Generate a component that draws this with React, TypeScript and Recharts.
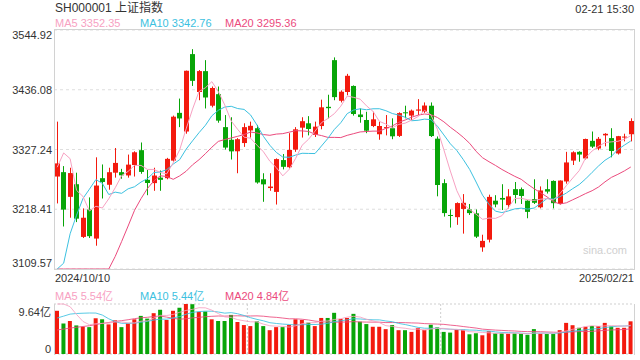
import React from "react";
import { ComposedChart, Bar, Line, XAxis, YAxis, CartesianGrid, Cell } from "recharts";

// trading days 2024/10/10 - 2025/02/21
const dates = [
  "2024/10/10", "2024/10/11", "2024/10/14", "2024/10/15", "2024/10/16", "2024/10/17", "2024/10/18",
  "2024/10/21", "2024/10/22", "2024/10/23", "2024/10/24", "2024/10/25", "2024/10/28", "2024/10/29",
  "2024/10/30", "2024/10/31", "2024/11/01", "2024/11/04", "2024/11/05", "2024/11/06", "2024/11/07",
  "2024/11/08", "2024/11/11", "2024/11/12", "2024/11/13", "2024/11/14", "2024/11/15", "2024/11/18",
  "2024/11/19", "2024/11/20", "2024/11/21", "2024/11/22", "2024/11/25", "2024/11/26", "2024/11/27",
  "2024/11/28", "2024/11/29", "2024/12/02", "2024/12/03", "2024/12/04", "2024/12/05", "2024/12/06",
  "2024/12/09", "2024/12/10", "2024/12/11", "2024/12/12", "2024/12/13", "2024/12/16", "2024/12/17",
  "2024/12/18", "2024/12/19", "2024/12/20", "2024/12/23", "2024/12/24", "2024/12/25", "2024/12/26",
  "2024/12/27", "2024/12/30", "2024/12/31", "2025/01/02", "2025/01/03", "2025/01/06", "2025/01/07",
  "2025/01/08", "2025/01/09", "2025/01/10", "2025/01/13", "2025/01/14", "2025/01/15", "2025/01/16",
  "2025/01/17", "2025/01/20", "2025/01/21", "2025/01/22", "2025/01/23", "2025/01/24", "2025/01/27",
  "2025/02/05", "2025/02/06", "2025/02/07", "2025/02/10", "2025/02/11", "2025/02/12", "2025/02/13",
  "2025/02/14", "2025/02/17", "2025/02/18", "2025/02/19", "2025/02/20", "2025/02/21",
];

const opens = [
  3278, 3286, 3241, 3264, 3168, 3218, 3165, 3275, 3263, 3285, 3286, 3280, 3299, 3326, 3272, 3266,
  3276, 3275, 3307, 3394, 3360, 3501, 3432, 3470, 3407, 3428, 3368, 3345, 3324, 3339, 3362, 3366,
  3273, 3257, 3250, 3308, 3295, 3327, 3367, 3375, 3354, 3370, 3405, 3490, 3416, 3432, 3443, 3391,
  3381, 3370, 3355, 3366, 3366, 3352, 3395, 3389, 3398, 3396, 3407, 3347, 3266, 3208, 3204, 3219,
  3218, 3211, 3149, 3163, 3234, 3239, 3226, 3255, 3255, 3234, 3237, 3222, 3255, 3270, 3228, 3269,
  3307, 3323, 3311, 3343, 3329, 3353, 3348, 3320, 3349, 3355,
];

const highs = [
  3378, 3297, 3294, 3285, 3220, 3240, 3313, 3300, 3294, 3330, 3292, 3318, 3324, 3340, 3290, 3294,
  3289, 3312, 3389, 3420, 3471, 3510, 3472, 3490, 3442, 3442, 3390, 3386, 3348, 3375, 3378, 3372,
  3284, 3284, 3311, 3319, 3357, 3368, 3386, 3388, 3378, 3418, 3427, 3495, 3435, 3465, 3444, 3402,
  3396, 3396, 3378, 3390, 3384, 3395, 3407, 3400, 3419, 3413, 3413, 3351, 3273, 3218, 3231, 3246,
  3228, 3218, 3172, 3245, 3244, 3264, 3255, 3268, 3258, 3235, 3273, 3260, 3273, 3271, 3271, 3323,
  3324, 3324, 3347, 3360, 3350, 3357, 3366, 3352, 3356, 3384,
];

const lows = [
  3229, 3187, 3203, 3195, 3166, 3166, 3152, 3238, 3254, 3276, 3274, 3276, 3278, 3283, 3244, 3252,
  3252, 3273, 3305, 3368, 3356, 3443, 3417, 3402, 3404, 3376, 3327, 3309, 3284, 3332, 3349, 3265,
  3232, 3252, 3227, 3291, 3293, 3323, 3349, 3353, 3350, 3364, 3384, 3417, 3413, 3426, 3389, 3376,
  3357, 3368, 3345, 3353, 3346, 3350, 3384, 3381, 3390, 3394, 3350, 3242, 3205, 3185, 3190, 3174,
  3208, 3166, 3141, 3158, 3222, 3217, 3220, 3229, 3228, 3202, 3228, 3220, 3247, 3220, 3227, 3265,
  3299, 3305, 3309, 3330, 3326, 3333, 3313, 3318, 3342, 3342,
];

const closes = [
  3301.93, 3217.74, 3284.32, 3201.29, 3202.95, 3169.38, 3261.56, 3268.11, 3285.87, 3302.8,
  3280.26, 3299.7, 3322.2, 3286.41, 3266.24, 3279.82, 3272.01, 3310.21, 3386.99, 3383.81,
  3470.66, 3452.3, 3470.07, 3421.97, 3439.28, 3379.84, 3330.73, 3323.85, 3346.01, 3367.99,
  3370.4, 3267.19, 3263.76, 3259.76, 3309.78, 3295.7, 3326.46, 3363.98, 3378.81, 3364.65,
  3368.86, 3404.08, 3402.53, 3422.66, 3432.49, 3461.5, 3391.88, 3386.33, 3361.49, 3382.21,
  3370.03, 3368.07, 3351.26, 3393.53, 3393.35, 3398.08, 3400.14, 3407.33, 3351.76, 3262.56,
  3211.43, 3206.92, 3229.64, 3230.17, 3211.39, 3168.52, 3160.76, 3240.94, 3227.12, 3236.03,
  3241.82, 3244.38, 3242.62, 3213.62, 3230.16, 3252.63, 3250.6, 3229.49, 3270.66, 3303.67,
  3322.17, 3318.06, 3346.39, 3332.48, 3346.72, 3355.83, 3324.49, 3351.54, 3350.78, 3379.11,
];

// volume, 亿
const volumes = [
  8.33, 5.9, 6.36, 5.51, 5.25, 5.18, 6.89, 6.69, 5.71, 6.49, 5.18, 5.9, 6.69, 7.35, 6.82, 7.87,
  8.53, 6.56, 8.33, 8.92, 9.64, 9.6, 8.13, 8.2, 6.69, 6.36, 6.36, 7.54, 6.17, 5.58, 5.38, 6.3,
  5.38, 4.59, 5.18, 5.18, 5.58, 6.69, 6.56, 6.04, 5.38, 6.95, 6.95, 7.94, 6.76, 6.95, 7.74, 6.23,
  5.77, 5.25, 5.25, 4.79, 5.58, 4.59, 4.59, 4.26, 4.99, 4.66, 5.64, 5.12, 4.26, 4.13, 4.66, 4.66,
  3.8, 4.0, 3.61, 4.4, 4.0, 4.0, 3.9, 3.95, 3.9, 3.7, 4.8, 3.9, 3.85, 3.85, 4.6, 6.0,
  5.55, 5.05, 5.25, 5.4, 5.4, 6.0, 5.31, 5.05, 5.05, 6.3,
];

// the 19 sessions before the first day, needed for the moving averages
const priorCloses = [
  2784.28, 2788.31, 2765.81, 2736.49, 2744.19, 2721.8, 2717.12, 2704.09, 2717.28, 2736.02,
  2736.81, 2748.92, 2863.13, 2896.31, 3000.95, 3087.53, 3336.5, 3489.78, 3258.86,
];
const priorVolumes = [
  2.4, 2.5, 2.4, 2.3, 2.2, 2.3, 2.3, 2.2, 2.3, 2.3, 2.3, 2.5, 4.3, 4.7, 4.8, 7.0, 10.5, 13.0, 12.0,
];

const priceTicks = [3109.57, 3218.41, 3327.24, 3436.08, 3544.92];
const updateTime = "02-21 15:30";

const RED = "#f31a0e";
const GREEN = "#08a508";
const C_MA5 = "#f7a1c2";
const C_MA10 = "#3cc1e0";
const C_MA20 = "#eb4a7d";
const TEXT = "#333";
const FONT = "'Liberation Sans', Arial, 'Noto Sans CJK SC', sans-serif";

const W = 640;
const AXIS_W = 54;

function movingAvg(series: number[], prior: number[], n: number) {
  const all = [...prior, ...series];
  return series.map((_, i) => {
    const end = prior.length + i + 1;
    let s = 0;
    for (let k = end - n; k < end; k++) s += all[k];
    return s / n;
  });
}

const P_MIN = priceTicks[0];
const P_MAX = priceTicks[priceTicks.length - 1];
const V_MAX = Math.max(...volumes);

const ma5 = movingAvg(closes, priorCloses, 5);
const ma10 = movingAvg(closes, priorCloses, 10);
const ma20 = movingAvg(closes, priorCloses, 20);
const vma5 = movingAvg(volumes, priorVolumes, 5);
const vma10 = movingAvg(volumes, priorVolumes, 10);
const vma20 = movingAvg(volumes, priorVolumes, 20);

const clampP = (v: number) => Math.min(P_MAX, Math.max(P_MIN, v));
const clampV = (v: number) => Math.min(V_MAX, Math.max(0, v));

const rows = dates.map((date, i) => ({
  date,
  open: opens[i],
  high: highs[i],
  low: lows[i],
  close: closes[i],
  vol: volumes[i],
  up: closes[i] >= opens[i],
  ma5: clampP(ma5[i]),
  ma10: clampP(ma10[i]),
  ma20: clampP(ma20[i]),
  vma5: clampV(vma5[i]),
  vma10: clampV(vma10[i]),
  vma20: clampV(vma20[i]),
}));

const last = rows.length - 1;

const Candle = (props: any) => {
  const { x, y, width, height, payload } = props;
  if (x == null || !payload) return null;
  const { open, close, high, low } = payload;
  const color = close >= open ? RED : GREEN;
  const top = Math.min(y, y + height);
  const bottom = Math.max(y, y + height);
  const k = (bottom - top) / (high - low || 1);
  const py = (v: number) => top + (high - v) * k;
  const cx = Math.floor(x + width / 2) + 0.5;
  const bTop = py(Math.max(open, close));
  const bH = Math.max(1, py(Math.min(open, close)) - bTop);
  return (
    <g>
      <line x1={cx} x2={cx} y1={top} y2={bottom} stroke={color} strokeWidth={1} />
      <rect x={cx - 2.5} y={bTop} width={5} height={bH} fill={color} />
    </g>
  );
};

const PriceTick = (p: any) => {
  const v = p.payload.value;
  const dy = v === P_MAX ? 5 : v === P_MIN ? -6 : 0;
  return (
    <text x={AXIS_W - 2} y={p.y + dy} textAnchor="end" dominantBaseline="central"
      fontSize={11} fill={TEXT} fontFamily={FONT}>
      {v.toFixed(2)}
    </text>
  );
};

const VolTick = (p: any) => {
  const v = p.payload.value;
  const dy = v === 0 ? -5 : 8;
  return (
    <text x={AXIS_W - 3} y={p.y + dy} textAnchor="end" dominantBaseline="central"
      fontSize={11} fill={TEXT} fontFamily={FONT}>
      {v === 0 ? "0" : `${v.toFixed(2)}亿`}
    </text>
  );
};

const legendRow = (top: number, items: { label: string; color: string }[]) => (
  <div style={{ position: "absolute", top, left: 0, width: W, height: 14 }}>
    {items.map((it, i) => (
      <span key={i} style={{
        position: "absolute", left: [55, 140, 225][i], top: 0, fontSize: 11,
        lineHeight: "14px", color: it.color, whiteSpace: "nowrap",
      }}>{it.label}</span>
    ))}
  </div>
);

export default function App() {
  const plotW = W - AXIS_W - 6;
  return (
    <div style={{
      position: "absolute", left: 0, top: 0, width: W, height: 360, background: "#fff",
      fontFamily: FONT, overflow: "hidden",
    }}>
      <div style={{ position: "absolute", left: 55, top: 1, fontSize: 12, lineHeight: "15px", color: TEXT }}>
        SH000001 上证指数
      </div>
      <div style={{ position: "absolute", right: 6, top: 2, fontSize: 11, lineHeight: "14px", color: TEXT }}>
        {updateTime}
      </div>
      {legendRow(16, [
        { label: `MA5 ${ma5[last].toFixed(2)}`, color: C_MA5 },
        { label: `MA10 ${ma10[last].toFixed(2)}`, color: C_MA10 },
        { label: `MA20 ${ma20[last].toFixed(2)}`, color: C_MA20 },
      ])}

      {/* price panel */}
      <div style={{ position: "absolute", left: 0, top: 0 }}>
        <ComposedChart width={W} height={270} data={rows} margin={{ top: 30, right: 6, bottom: 1, left: 0 }}>
          <CartesianGrid vertical={false} stroke="#dedede" strokeDasharray="3 3" />
          <XAxis dataKey="date" hide />
          <YAxis domain={[P_MIN, P_MAX]} ticks={priceTicks} allowDataOverflow interval={0}
            width={AXIS_W} axisLine={false} tickLine={false} tick={PriceTick} />
          <Bar dataKey={(d: any) => [d.low, d.high]} barSize={5} shape={Candle} isAnimationActive={false} />
          <Line dataKey="ma20" stroke={C_MA20} strokeWidth={1} dot={false} isAnimationActive={false} />
          <Line dataKey="ma10" stroke={C_MA10} strokeWidth={1} dot={false} isAnimationActive={false} />
          <Line dataKey="ma5" stroke={C_MA5} strokeWidth={1} dot={false} isAnimationActive={false} />
        </ComposedChart>
      </div>
      <div style={{
        position: "absolute", left: AXIS_W, top: 29, width: plotW + 1, height: 241,
        border: "1px solid #d2d2d2", boxSizing: "border-box", pointerEvents: "none",
      }} />
      <div style={{ position: "absolute", left: 583, top: 243, fontSize: 11, lineHeight: "14px", color: "#d0d0d0" }}>
        sina.com
      </div>
      <div style={{ position: "absolute", left: 55, top: 271, fontSize: 11, lineHeight: "14px", color: TEXT }}>
        {dates[0]}
      </div>
      <div style={{ position: "absolute", right: 6, top: 271, fontSize: 11, lineHeight: "14px", color: TEXT }}>
        {dates[last]}
      </div>

      {/* volume panel */}
      {legendRow(289, [
        { label: `MA5 ${vma5[last].toFixed(2)}亿`, color: C_MA5 },
        { label: `MA10 ${vma10[last].toFixed(2)}亿`, color: C_MA10 },
        { label: `MA20 ${vma20[last].toFixed(2)}亿`, color: C_MA20 },
      ])}
      <div style={{ position: "absolute", left: 0, top: 280 }}>
        <ComposedChart width={W} height={80} data={rows} margin={{ top: 24, right: 6, bottom: 6, left: 0 }}>
          <CartesianGrid stroke="#cfcfcf" strokeDasharray="2 2"
            verticalPoints={[AXIS_W + plotW / 3, AXIS_W + (2 * plotW) / 3]} />
          <XAxis dataKey="date" hide />
          <YAxis domain={[0, V_MAX]} ticks={[0, V_MAX]} interval={0} width={AXIS_W}
            axisLine={false} tickLine={false} tick={VolTick} />
          <Bar dataKey="vol" barSize={4} isAnimationActive={false}>
            {rows.map((r, i) => (
              <Cell key={i} fill={r.up ? RED : GREEN} />
            ))}
          </Bar>
          <Line dataKey="vma20" stroke={C_MA20} strokeOpacity={0.85} strokeWidth={1} dot={false} isAnimationActive={false} />
          <Line dataKey="vma10" stroke={C_MA10} strokeOpacity={0.85} strokeWidth={1} dot={false} isAnimationActive={false} />
          <Line dataKey="vma5" stroke={C_MA5} strokeOpacity={0.85} strokeWidth={1} dot={false} isAnimationActive={false} />
        </ComposedChart>
      </div>
      <div style={{
        position: "absolute", left: AXIS_W, top: 304, width: plotW + 1, height: 51,
        borderLeft: "1px solid #d2d2d2", borderRight: "1px solid #d2d2d2",
        boxSizing: "border-box", pointerEvents: "none",
      }} />
    </div>
  );
}
